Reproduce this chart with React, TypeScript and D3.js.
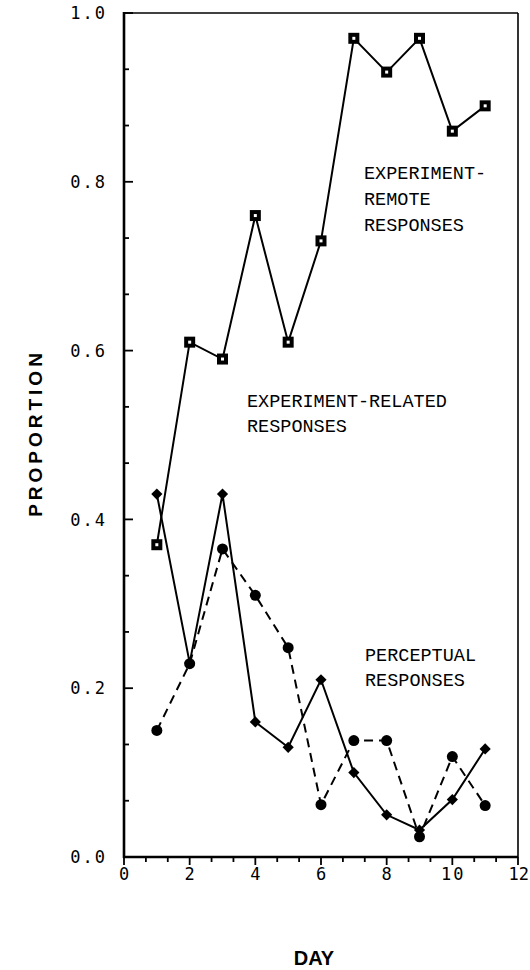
import React from 'react';
import * as d3 from 'd3';

const days = [1, 2, 3, 4, 5, 6, 7, 8, 9, 10, 11];
const remoteValues = [0.37, 0.61, 0.59, 0.76, 0.61, 0.73, 0.97, 0.93, 0.97, 0.86, 0.89];
const relatedValues = [0.43, 0.23, 0.43, 0.16, 0.13, 0.21, 0.1, 0.05, 0.032, 0.068, 0.128];
const perceptualValues = [0.15, 0.229, 0.365, 0.31, 0.248, 0.062, 0.138, 0.138, 0.024, 0.119, 0.061];
const xTicks = [0, 2, 4, 6, 8, 10, 12];
const yTicks = [0, 0.2, 0.4, 0.6, 0.8, 1.0];

const W = 530;
const H = 970;
const margin = { top: 13, right: 12, bottom: 113, left: 124 };

export default function App() {
  const x = d3.scaleLinear().domain([0, 12]).range([margin.left, W - margin.right]);
  const y = d3.scaleLinear().domain([0, 1]).range([H - margin.bottom, margin.top]);

  const line = d3.line<[number, number]>()
    .x(d => x(d[0]))
    .y(d => y(d[1]));

  const remote = days.map((d, i) => [d, remoteValues[i]] as [number, number]);
  const related = days.map((d, i) => [d, relatedValues[i]] as [number, number]);
  const perceptual = days.map((d, i) => [d, perceptualValues[i]] as [number, number]);

  // minor ticks: three per major interval
  const xMinor = d3.range(0, 12.001, 2 / 3);
  const yMinor = d3.range(0, 1.001, 0.2 / 3);

  const x0 = x(0), x1 = x(12), y0 = y(0), y1 = y(1);
  const diamond = d3.symbol().type(d3.symbolDiamond2).size(80)();

  const mono = '"Liberation Mono", "Courier New", monospace';
  const tickFont = '"DejaVu Sans Mono", monospace';

  return (
    <svg width={W} height={H} style={{ position: 'absolute', left: 0, top: 0, background: '#fff' }}>
      {/* frame */}
      <line x1={x0} x2={x1} y1={y1} y2={y1} stroke="#000" strokeWidth={1.6} />
      <line x1={x1} x2={x1} y1={y1} y2={y0} stroke="#000" strokeWidth={1.6} />
      <line x1={x0} x2={x0} y1={y1 - 1} y2={y0 + 1} stroke="#000" strokeWidth={2.6} />
      <line x1={x0 - 1} x2={x1} y1={y0} y2={y0} stroke="#000" strokeWidth={2.6} />

      {/* y ticks (inward) */}
      {yMinor.map((v, i) => (
        <line key={'ym' + i} x1={x0} x2={x0 + (i % 3 === 0 ? 9 : 5)} y1={y(v)} y2={y(v)} stroke="#000" strokeWidth={1.8} />
      ))}
      {yTicks.map(v => (
        <text key={'yl' + v} x={x0 - 17} y={y(v)} dy="0.36em" textAnchor="end"
          fontFamily={tickFont} fontSize={17} letterSpacing={2}>{v.toFixed(1)}</text>
      ))}

      {/* x ticks (outward) */}
      {xMinor.map((v, i) => (
        <line key={'xm' + i} x1={x(v)} x2={x(v)} y1={y0} y2={y0 + (i % 3 === 0 ? 8 : 5)} stroke="#000" strokeWidth={1.8} />
      ))}
      {xTicks.map(v => (
        <text key={'xl' + v} x={v === 12 ? W - 1 : x(v) + 1} y={y0 + 23} textAnchor={v === 12 ? 'end' : 'middle'}
          fontFamily={tickFont} fontSize={17} letterSpacing={v === 12 ? 0 : 2}>{v}</text>
      ))}

      {/* axis titles */}
      <text x={0} y={0} transform={`translate(42,433) rotate(-90)`} textAnchor="middle"
        fontFamily='"Liberation Sans", Arial, sans-serif' fontWeight="bold" fontSize={19} letterSpacing={4}>PROPORTION</text>
      <text x={314} y={965} textAnchor="middle"
        fontFamily='"Liberation Sans", Arial, sans-serif' fontWeight="bold" fontSize={20}>DAY</text>

      {/* series */}
      <path d={line(remote) || ''} fill="none" stroke="#000" strokeWidth={2} />
      <path d={line(related) || ''} fill="none" stroke="#000" strokeWidth={2} />
      <path d={line(perceptual) || ''} fill="none" stroke="#000" strokeWidth={2} strokeDasharray="9,6" />

      {remote.map((d, i) => (
        <g key={'r' + i} transform={`translate(${x(d[0])},${y(d[1])})`}>
          <rect x={-5.5} y={-5.5} width={11} height={11} fill="#000" />
          <rect x={-1.5} y={-1.5} width={3} height={3} fill="#fff" />
        </g>
      ))}
      {related.map((d, i) => (
        <path key={'e' + i} d={diamond || ''} transform={`translate(${x(d[0])},${y(d[1])})`} fill="#000" />
      ))}
      {perceptual.map((d, i) => (
        <circle key={'p' + i} cx={x(d[0])} cy={y(d[1])} r={5.5} fill="#000" />
      ))}

      {/* labels */}
      <g fontFamily={mono} fontSize={18.5}>
        <text x={364} y={179}>EXPERIMENT-</text>
        <text x={364} y={205}>REMOTE</text>
        <text x={364} y={231}>RESPONSES</text>
        <text x={247} y={407}>EXPERIMENT-RELATED</text>
        <text x={247} y={432}>RESPONSES</text>
        <text x={365} y={661}>PERCEPTUAL</text>
        <text x={365} y={686}>RESPONSES</text>
      </g>
    </svg>
  );
}
